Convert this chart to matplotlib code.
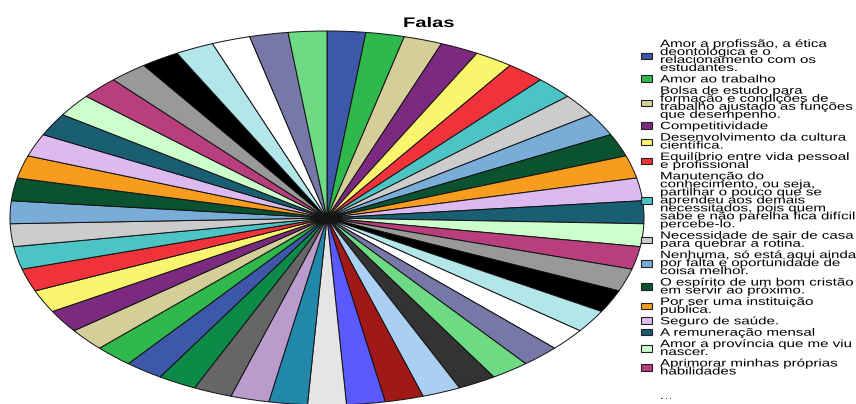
import matplotlib.pyplot as plt
from matplotlib.patheffects import AbstractPathEffect
from matplotlib.transforms import Affine2D

# respostas (só as 15 primeiras aparecem na legenda do original)
falas = [
    "Amor a profissão, a ética\ndeontológica e o\nrelacionamento com os\nestudantes.",
    "Amor ao trabalho",
    "Bolsa de estudo para\nformação e condições de\ntrabalho ajustado as funções\nque desempenho.",
    "Competitividade",
    "Desenvolvimento da cultura\ncientífica.",
    "Equilíbrio entre vida pessoal\ne profissional",
    "Manutenção do\nconhecimento, ou seja,\npartilhar o pouco que se\naprendeu aos demais\nnecessitados, pois quem\nsabe e não parelha fica difícil\npercebe-lo.",
    "Necessidade de sair de casa\npara quebrar a rotina.",
    "Nenhuma, só está aqui ainda\npor falta e oportunidade de\ncoisa melhor.",
    "O espírito de um bom cristão\nem servir ao próximo.",
    "Por ser uma instituição\npublica.",
    "Seguro de saúde.",
    "A remuneração mensal",
    "Amor a província que me viu\nnascer.",
    "Aprimorar minhas próprias\nhabilidades",
]

# 51 fatias, todas do mesmo tamanho
contagens = [1, 1, 1, 1, 1, 1, 1, 1, 1, 1, 1, 1, 1, 1, 1, 1, 1,
             1, 1, 1, 1, 1, 1, 1, 1, 1, 1, 1, 1, 1, 1, 1, 1, 1,
             1, 1, 1, 1, 1, 1, 1, 1, 1, 1, 1, 1, 1, 1, 1, 1, 1]

paleta = ['#3d57a9', '#2fb84c', '#d4cf99', '#7b2a7f', '#faf56c', '#f0323a',
          '#4cc4c6', '#cccccc', '#7aacd8', '#0b5330', '#f89c20', '#dcbaf0',
          '#1a5e74', '#ccffcc', '#b93e7e', '#999999', '#000000', '#b3e6e8',
          '#ffffff', '#7878a8', '#6edb84', '#333333', '#aacff0', '#a01818',
          '#5a5aff', '#e5e5e5', '#2288aa', '#b99ccc', '#666666', '#0e8a48']
cores = [paleta[i % len(paleta)] for i in range(len(contagens))]


# o texto do original está esticado na horizontal
class Esticar(AbstractPathEffect):
    def __init__(self, sx):
        super().__init__()
        self.sx = sx

    def draw_path(self, renderer, gc, tpath, affine, rgbFace=None):
        renderer.draw_path(gc, tpath, Affine2D().scale(self.sx, 1) + affine, rgbFace)


plt.rcParams['font.family'] = 'Liberation Sans'

fig = plt.figure(figsize=(8.56, 4.04), dpi=100)
ax = fig.add_axes([0, 0, 1, 1])

wedges, _ = ax.pie(contagens, colors=cores, startangle=90, counterclock=False,
                   wedgeprops=dict(edgecolor='#111111', linewidth=0.7))
ax.set_aspect('auto')
# centro em (327, 218) px, raios 317 x 187 px
ax.set_xlim(-327 / 317, (856 - 327) / 317)
ax.set_ylim(-(404 - 218) / 187, 218 / 187)
ax.axis('off')

fig.text(403 / 856, 1 - 27 / 404, "Falas", ha='left', va='baseline',
         fontsize=10, fontweight='bold', path_effects=[Esticar(1.45)])

leg = fig.legend(wedges[:len(falas)], falas, loc='upper left',
                 bbox_to_anchor=(641 / 856, 1 - 39 / 404), frameon=False,
                 fontsize=7.7, borderpad=0, borderaxespad=0, labelspacing=0.13,
                 handlelength=1.03, handleheight=0.56, handletextpad=0.75)
for t in leg.get_texts():
    t.set_linespacing(0.75)
    t.set_path_effects([Esticar(1.41)])
for h in leg.legend_handles:
    h.set_edgecolor('#222222')
    h.set_linewidth(0.8)

fig.text(660 / 856, 1 - 399 / 404, "...", ha='left', va='baseline', fontsize=7.7,
         color='#555555', path_effects=[Esticar(1.41)])

fig.savefig("out.png", dpi=100)
